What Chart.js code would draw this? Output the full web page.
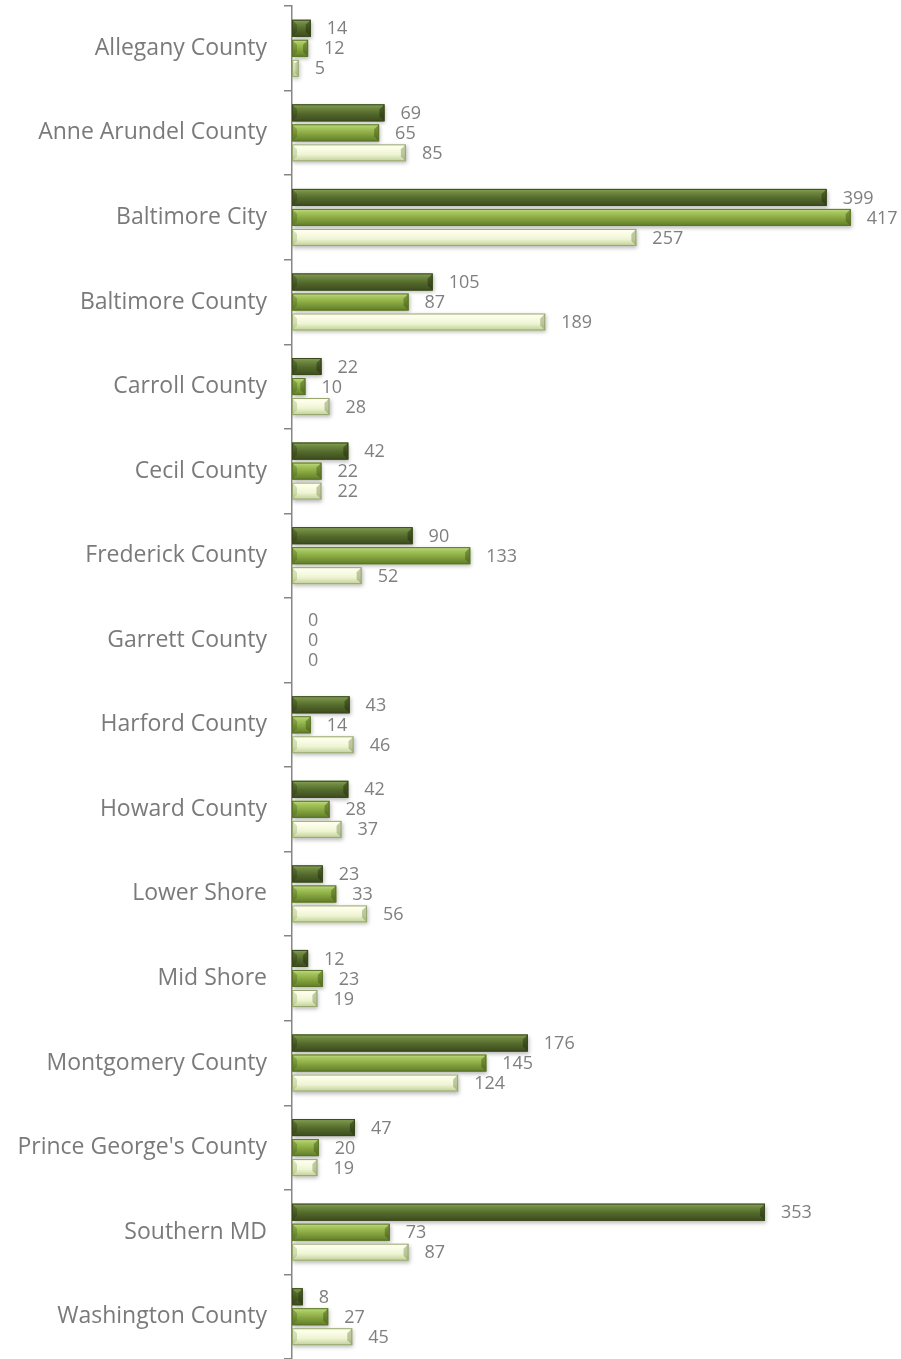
<!DOCTYPE html>
<html><head><meta charset="utf-8">
<script src="https://cdn.jsdelivr.net/npm/chart.js@4/dist/chart.umd.min.js"></script>
<style>html,body{margin:0;padding:0;background:#fff;}#wrap{width:901px;height:1359px;}</style>
</head><body><div id="wrap"><canvas id="c" width="901" height="1359"></canvas></div>
<script>
const categories = ["Allegany County","Anne Arundel County","Baltimore City","Baltimore County","Carroll County","Cecil County","Frederick County","Garrett County","Harford County","Howard County","Lower Shore","Mid Shore","Montgomery County","Prince George's County","Southern MD","Washington County"];
const series1 = [14,69,399,105,22,42,90,0,43,42,23,12,176,47,353,8];
const series2 = [12,65,417,87,10,22,133,0,14,28,33,23,145,20,73,27];
const series3 = [5,85,257,189,28,22,52,0,46,37,56,19,124,19,87,45];

const styles = [
  {fill:'#52672a', stops:[[0,'#8ba55c'],[0.2,'#6f8a40'],[0.55,'#53692b'],[1,'#3c4b1e']], left:'rgba(40,55,15,0.35)', right:'rgba(30,40,10,0.45)', border:'#3a481c'},
  {fill:'#86a43e', stops:[[0,'#c4df8a'],[0.2,'#a6c65e'],[0.55,'#88a740'],[1,'#5f7c29']], left:'rgba(70,95,25,0.35)', right:'rgba(60,80,20,0.45)', border:'#5b7428'},
  {fill:'#eef4d2', stops:[[0,'#ffffef'],[0.25,'#fbfde7'],[0.6,'#eef4d3'],[1,'#bfcf96']], left:'rgba(150,170,100,0.35)', right:'rgba(120,140,80,0.45)', border:'#95a56e'}
];

const bevelPlugin = {
  id:'bevel',
  afterDatasetsDraw(chart){
    const ctx = chart.ctx;
    chart.data.datasets.forEach((ds,di)=>{
      const meta = chart.getDatasetMeta(di);
      const st = styles[di];
      meta.data.forEach((el,i)=>{
        const p = el.getProps(['x','y','base','height'],true);
        const x0 = Math.min(p.base,p.x), x1 = Math.max(p.base,p.x);
        const y0 = p.y - p.height/2, y1 = p.y + p.height/2;
        const w = x1-x0;
        if (w > 0.5) {
          const b = Math.min(5, w/2, p.height/2);
          ctx.save();
          const g = ctx.createLinearGradient(0,y0,0,y1);
          st.stops.forEach(s=>g.addColorStop(s[0],s[1]));
          ctx.fillStyle = g;
          ctx.fillRect(x0,y0,w,p.height);
          ctx.fillStyle = st.left;
          ctx.beginPath();ctx.moveTo(x0,y0);ctx.lineTo(x0+b,y0+b);ctx.lineTo(x0+b,y1-b);ctx.lineTo(x0,y1);ctx.closePath();ctx.fill();
          ctx.fillStyle = st.right;
          ctx.beginPath();ctx.moveTo(x1,y0);ctx.lineTo(x1,y1);ctx.lineTo(x1-b,y1-b);ctx.lineTo(x1-b,y0+b);ctx.closePath();ctx.fill();
          ctx.strokeStyle = st.border; ctx.lineWidth = 1;
          ctx.strokeRect(x0+0.5,y0+0.5,w-1,p.height-1);
          ctx.restore();
        }
        ctx.save();
        ctx.font = '18px "Open Sans", sans-serif';
        ctx.fillStyle = '#7f7f7f';
        ctx.textAlign = 'left';
        ctx.textBaseline = 'middle';
        ctx.fillText(String(ds.data[i]), x1 + 16, p.y + 1);
        ctx.restore();
      });
    });
  }
};

const shadowPlugin = {
  id:'shadow',
  beforeDatasetsDraw(chart){
    chart.ctx.save();
    chart.ctx.shadowColor = 'rgba(0,0,0,0.28)';
    chart.ctx.shadowBlur = 4;
    chart.ctx.shadowOffsetY = 2;
    chart.ctx.shadowOffsetX = 1;
  },
  afterDatasetsDraw(chart){ chart.ctx.restore(); }
};

new Chart(document.getElementById('c'), {
  type:'bar',
  data:{
    labels: categories,
    datasets:[
      {data: series1, backgroundColor: styles[0].fill, borderWidth:0, barPercentage:0.85, categoryPercentage:0.71},
      {data: series2, backgroundColor: styles[1].fill, borderWidth:0, barPercentage:0.85, categoryPercentage:0.71},
      {data: series3, backgroundColor: styles[2].fill, borderWidth:0, barPercentage:0.85, categoryPercentage:0.71}
    ]
  },
  options:{
    indexAxis:'y',
    responsive:false,
    animation:false,
    layout:{padding:{top:6,bottom:0,left:0,right:0}},
    plugins:{legend:{display:false}, tooltip:{enabled:false}},
    scales:{
      x:{display:false, min:0, max:454.5},
      y:{
        afterFit(scale){ scale.width = 292; scale.paddingTop = 0; scale.paddingBottom = 0; },
        grid:{drawOnChartArea:false, offset:true, tickLength:8, color:'#868686', lineWidth:1.5},
        border:{display:true, color:'#868686', width:1.5},
        ticks:{color:'#7a7a7a', padding:17, font:{family:'"Open Sans", sans-serif', size:23}}
      }
    }
  },
  plugins:[shadowPlugin, bevelPlugin]
});
</script></body></html>
